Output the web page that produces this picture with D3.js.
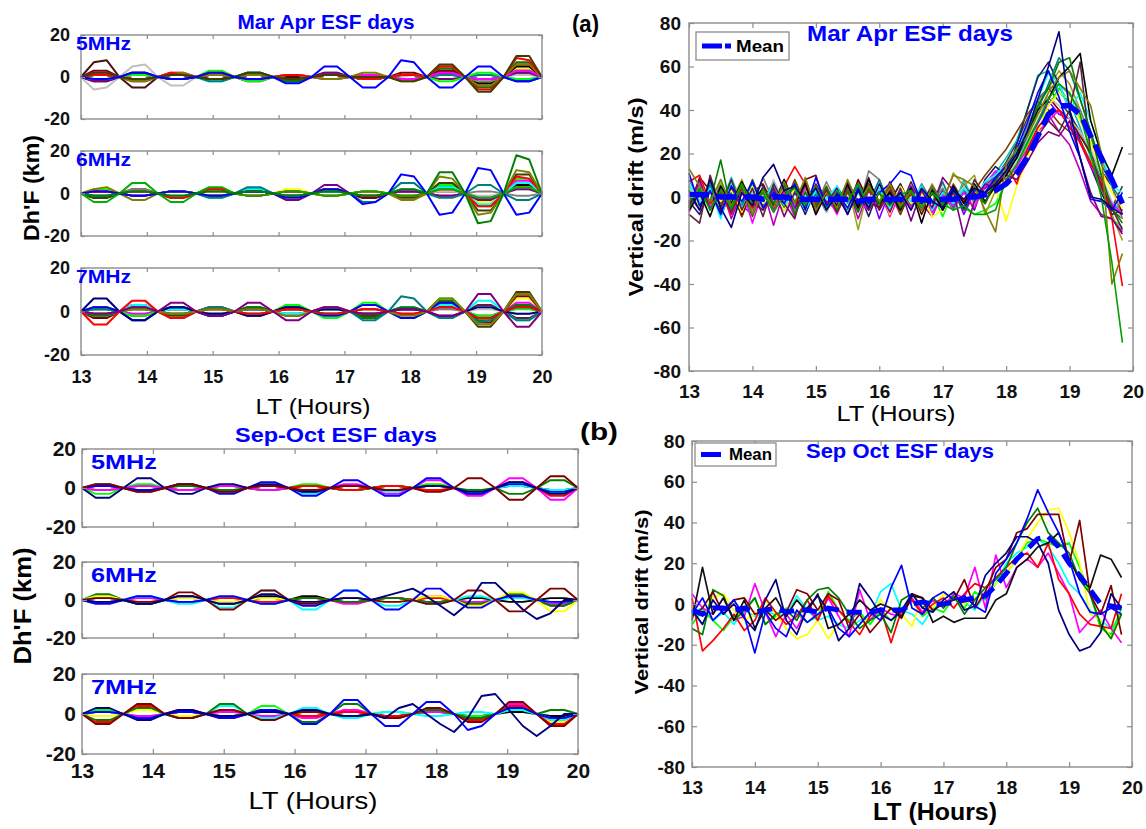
<!DOCTYPE html>
<html>
<head>
<meta charset="utf-8">
<script src="https://cdn.jsdelivr.net/npm/d3@7"></script>
<style>
  body { margin: 0; background: #fff; }
</style>
</head>
<body>
<svg id="fig" width="1146" height="829"></svg>
<script>
// sample times (LT hours)
const dhHours = [13.000,13.194,13.389,13.583,13.778,13.972,14.167,14.361,14.556,14.750,14.944,15.139,15.333,15.528,15.722,15.917,16.111,16.306,16.500,16.694,16.889,17.083,17.278,17.472,17.667,17.861,18.056,18.250,18.444,18.639,18.833,19.028,19.222,19.417,19.611,19.806,20.000];
const driftHours = [13.000,13.167,13.333,13.500,13.667,13.833,14.000,14.167,14.333,14.500,14.667,14.833,15.000,15.167,15.333,15.500,15.667,15.833,16.000,16.167,16.333,16.500,16.667,16.833,17.000,17.167,17.333,17.500,17.667,17.833,18.000,18.167,18.333,18.500,18.667,18.833,19.000,19.167,19.333,19.500,19.667,19.833];
const hourTicks = [13, 14, 15, 16, 17, 18, 19, 20];
const dhTicks = [-20, 0, 20];
const driftTicks = [-80, -60, -40, -20, 0, 20, 40, 60, 80];

// Mar-Apr Dh'F, 5 MHz
const maDh5 = [
  [0, 1,1,0, 2,2,0, -1,-1,0, -1,-1,0, 2,2,0, -2,-2,0, 1,1,0, -1,-1,0, 1,1,0, 2,2,0, 1,1,0, -2,-2,0],
  [0, -1,-1,0, 1,1,0, -1,-1,0, 2,2,0, -1,-1,0, 1,1,0, -1,-1,0, 1,1,0, 1,1,0, 2,2,0, -2,-2,0, 4,4,0],
  [0, 2,2,0, -1,-1,0, 1,1,0, -2,-2,0, 2,2,0, -1,-1,0, 1,1,0, 1,1,0, -1,-1,0, 1,1,0, 1,1,0, -1,-1,0],
  [0, -2,-2,0, 2,2,0, -1,-1,0, 1,1,0, 1,1,0, -1,-1,0, 1,1,0, -1,-1,0, 1,1,0, 3,3,0, -3,-3,0, 5,5,0],
  [0, 1,1,0, -1,-1,0, 1,1,0, -1,-1,0, 2,2,0, -2,-2,0, 1,1,0, 1,1,0, -1,-1,0, 4,4,0, -5,-5,0, 7,7,0],
  [0, 3,3,0, -2,-2,0, 1,1,0, -1,-1,0, 1,1,0, -1,-1,0, 1,1,0, -1,-1,0, 2,2,0, 3,3,0, -4,-4,0, 6,6,0],
  [0, 7,8,0, -5,-5,0, 1,1,0, -1,-1,0, 1,1,0, 0,0,0, 1,1,0, -1,-1,0, 1,1,0, 2,2,0, -1,-1,0, 3,3,0],
  [0, -6,-5,0, 5,6,0, -4,-4,0, 2,2,0, -1,-1,0, 1,1,0, -1,-1,0, 1,1,0, 0,1,0, 1,1,0, -1,-1,0, 1,1,0],
  [0, 1,1,0, -1,-1,0, 1,1,0, 1,1,0, -1,-1,0, 1,1,0, -1,-1,0, 1,1,0, 1,1,0, 1,1,0, -2,-2,0, 2,2,0],
  [0, 1,1,0, 1,1,0, -1,-1,0, -2,-2,0, 1,1,0, -1,-1,0, 2,2,0, -1,-1,0, -1,-1,0, 1,1,0, 1,1,0, 2,2,0],
  [0, -2,-2,0, 1,1,0, -1,-1,0, 1,1,0, -2,-2,0, 1,1,0, 2,2,0, -1,-1,0, 1,1,0, -1,-1,0, -1,-1,0, 2,2,0],
  [0, 2,2,0, -1,-1,0, 2,2,0, 1,1,0, -1,-1,0, 1,1,0, -1,-1,0, 1,1,0, -1,-1,0, 2,2,0, -1,-1,0, 3,3,0],
  [0, -1,-1,0, 1,1,0, 1,1,0, 3,3,0, -2,-2,0, 1,1,0, 1,1,0, -1,-1,0, 1,1,0, -2,-2,0, 2,2,0, -1,-1,0],
  [0, 1,1,0, -2,-2,0, 2,2,0, 1,1,0, 1,1,0, -1,-1,0, -1,-1,0, 2,2,0, -2,-2,0, 5,5,0, -4,-4,0, 6,6,0],
  [0, 1,1,0, -1,-1,0, 2,1,0, 2,2,0, -1,-1,0, 1,1,0, 1,1,0, -1,-1,0, 1,1,0, 5,5,0, -6,-6,0, 9,8,0],
  [0, 2,2,0, -1,-1,0, 1,1,0, -1,-1,0, 2,2,0, -1,-1,0, 1,1,0, 0,0,0, -2,-2,0, 6,6,0, -7,-7,0, 10,10,0],
  [0, -1,-1,0, 2,2,0, -1,-1,0, 2,2,0, -1,-1,0, -3,-3,0, 5,5,0, -5,-5,0, 8,7,0, -5,-5,0, 5,5,0, -2,-2,0]
];
const maDh5Colors = ["#00007f", "#ffff00", "#00ffff", "#000000", "#007f00", "#7f0000", "#4c1010", "#c0c0c0", "#7f7f7f", "#007f7f", "#7f007f", "#ff00ff", "#00ff00", "#7f7f00", "#ff0000", "#3f3f00", "#0000ff"];

// Mar-Apr Dh'F, 6 MHz
const maDh6 = [
  [0, 1,1,0, -1,-1,0, -2,-2,0, 1,1,0, 2,2,0, -1,-1,0, 1,1,0, -2,-2,0, 1,1,0, 2,2,0, -3,-3,0, 3,3,0],
  [0, -2,-2,0, 1,1,0, 1,1,0, -1,-1,0, 1,1,0, 1,1,0, -1,-1,0, 1,1,0, -1,-1,0, 3,3,0, -2,-2,0, 4,4,0],
  [0, 2,2,0, -1,-1,0, 1,1,0, -1,-1,0, -1,-1,0, 1,1,0, -1,-1,0, 1,1,0, 1,1,0, 4,4,0, -6,-6,0, 7,7,0],
  [0, -1,-1,0, 2,2,0, 1,1,0, -1,-1,0, 1,1,0, -1,-1,0, 2,2,0, -2,-2,0, 1,1,0, 1,1,0, -4,-4,0, 5,5,0],
  [0, 1,1,0, -1,-1,0, 1,1,0, 1,1,0, -1,-1,0, 1,1,0, -1,-1,0, 1,1,0, -1,-1,0, 1,1,0, -1,-1,0, 2,2,0],
  [0, -2,-2,0, 1,1,0, -1,-1,0, 1,1,0, 1,1,0, -1,-1,0, 2,2,0, -1,-1,0, -2,-2,0, 5,5,0, -8,-8,0, 9,9,0],
  [0, -1,-1,0, 2,2,0, -1,-1,0, 1,1,0, -1,-1,0, 1,1,0, 1,1,0, -1,-1,0, 1,1,0, -1,-1,0, 1,1,0, -1,-1,0],
  [0, 1,1,0, 1,1,0, -1,-1,0, 1,1,0, -1,-1,0, 2,2,0, -1,-1,0, 1,1,0, -1,-1,0, 2,2,0, -4,-4,0, 3,3,0],
  [0, 1,1,0, -1,-1,0, 1,1,0, -1,-1,0, -1,-1,0, 1,1,0, 2,2,0, -1,-1,0, 1,1,0, -1,-1,0, -2,-2,0, 6,6,0],
  [0, -1,-1,0, 1,1,0, -1,-1,0, -2,-2,0, 2,2,0, -1,-1,0, 1,1,0, -1,-1,0, 2,2,0, 3,3,0, -5,-5,0, 5,5,0],
  [0, 1,1,0, -1,-1,0, 1,1,0, 2,2,0, 1,1,0, -3,-3,0, 4,4,0, -1,-1,0, 1,1,0, -1,-1,0, -3,-3,0, 2,2,0],
  [0, -1,-1,0, 1,1,0, 1,1,0, -2,-2,0, 3,3,0, -1,-1,0, 1,1,0, -4,-4,0, 5,5,0, -2,-2,0, 4,4,0, -3,-3,0],
  [0, 1,1,0, 1,1,0, -2,-2,0, 2,2,0, -1,-1,0, 1,1,0, -1,-1,0, 1,1,0, -1,-1,0, 2,2,0, -6,-6,0, 8,7,0],
  [0, -4,-4,0, 5,5,0, -4,-4,0, 3,3,0, -1,-1,0, 1,1,0, -1,-1,0, 1,1,0, -1,-1,0, 2,2,0, -2,-2,0, 3,3,0],
  [0, 2,3,0, -3,-3,0, 1,1,0, -1,-1,0, 1,1,0, -1,-1,0, 2,2,0, -1,-1,0, -3,-3,0, 8,7,0, -10,-9,0, 11,10,0],
  [0, 1,1,0, -1,-1,0, 1,1,0, -1,-1,0, 1,1,0, -2,-2,0, 2,2,0, -5,-4,0, 9,8,0, -10,-9,0, 12,11,0, -10,-9,0],
  [0, -1,-1,0, 1,1,0, -1,-1,0, 1,1,0, 1,1,0, -1,-1,0, 1,1,0, -1,-1,0, 2,2,0, 10,10,0, -14,-13,0, 18,16,0]
];
const maDh6Colors = ["#00007f", "#000000", "#00ff00", "#7f0000", "#bfbfbf", "#3f3f00", "#7f7f7f", "#ffff00", "#ff00ff", "#00ffff", "#7f007f", "#007f7f", "#ff0000", "#00b000", "#7f7f00", "#0000ff", "#007f00"];

// Mar-Apr Dh'F, 7 MHz
const maDh7 = [
  [0, -1,-1,0, 1,1,0, 1,1,0, -1,-1,0, 1,1,0, 1,1,0, -1,-1,0, -1,-1,0, 1,1,0, 2,2,0, -2,-2,0, 3,3,0],
  [0, 2,2,0, -2,-2,0, 1,1,0, -1,-1,0, -1,-1,0, 2,2,0, -1,-1,0, 1,1,0, -1,-1,0, 3,3,0, -4,-4,0, 6,6,0],
  [0, -3,-3,0, 3,3,0, -1,-1,0, 2,2,0, -2,-2,0, 1,1,0, 1,1,0, -2,-2,0, 1,1,0, 4,4,0, -5,-5,0, 7,7,0],
  [0, 1,1,0, 1,1,0, -1,-1,0, -1,-1,0, 1,1,0, -1,-1,0, 1,1,0, 1,1,0, -1,-1,0, 1,1,0, 1,1,0, -1,-1,0],
  [0, 2,2,0, -2,-2,0, -2,-2,0, 1,1,0, 2,2,0, -1,-1,0, 1,1,0, -2,-2,0, 1,1,0, 5,5,0, -7,-7,0, 9,9,0],
  [0, -1,-1,0, 2,2,0, 1,1,0, -2,-2,0, 1,1,0, -2,-2,0, 1,1,0, 1,1,0, -1,-1,0, 2,2,0, 3,3,0, -3,-3,0],
  [0, 1,1,0, -1,-1,0, -1,-1,0, 1,1,0, 1,1,0, -1,-1,0, 1,1,0, -1,-1,0, 1,1,0, 1,1,0, -2,-2,0, 2,2,0],
  [0, 1,1,0, -1,-1,0, 2,2,0, -1,-1,0, -1,-1,0, 1,1,0, 2,2,0, -1,-1,0, 1,1,0, -2,-2,0, -3,-3,0, 4,4,0],
  [0, -2,-2,0, 3,3,0, 1,1,0, -1,-1,0, 1,1,0, -1,-1,0, 1,1,0, -1,-1,0, 2,2,0, 3,3,0, 5,5,0, -4,-4,0],
  [0, -2,-2,0, 1,1,0, -1,-1,0, -2,-2,0, 2,2,0, 1,1,0, -1,-1,0, -3,-3,0, 2,2,0, 5,5,0, -4,-4,0, 3,3,0],
  [0, 1,1,0, -2,-2,0, 2,2,0, 1,1,0, -1,-1,0, 3,3,0, -3,-3,0, 4,4,0, -3,-3,0, 6,6,0, -2,-2,0, 1,1,0],
  [0, 1,1,0, 2,2,0, -3,-3,0, 2,2,0, -1,-1,0, 1,1,0, -1,-1,0, -4,-4,0, 7,6,0, -3,-3,0, -5,-4,0, -4,-4,0],
  [0, 2,2,0, -4,-4,0, 2,2,0, -2,-2,0, 1,1,0, 2,2,0, -2,-2,0, 3,3,0, -3,-3,0, 4,4,0, -3,-3,0, 2,2,0],
  [0, 6,6,0, -4,-4,0, 2,2,0, -1,-1,0, -2,-2,0, 2,2,0, 1,1,0, -1,-1,0, 1,1,0, -2,-2,0, 2,2,0, -1,-1,0],
  [0, -6,-6,0, 5,5,0, -3,-3,0, 1,1,0, -1,-1,0, 1,1,0, -1,-1,0, 1,1,0, -1,-1,0, 2,2,0, -3,-3,0, 2,2,0],
  [0, -1,-1,0, 1,1,0, -1,-1,0, 1,1,0, 1,1,0, -2,-2,0, 2,2,0, -1,-1,0, -2,-2,0, 6,6,0, -6,-6,0, 8,8,0],
  [0, -1,-1,0, 2,2,0, 4,4,0, -2,-2,0, 4,4,0, -4,-4,0, 2,2,0, -1,-1,0, 1,1,0, -2,-2,0, 8,8,0, -7,-7,0]
];
const maDh7Colors = ["#000000", "#ffff00", "#7f0000", "#bfbfbf", "#3f3f00", "#5f1f3f", "#7f7f7f", "#ff00ff", "#00ffff", "#007f00", "#00ff00", "#007f7f", "#0000ff", "#00007f", "#ff0000", "#7f7f00", "#7f007f"];

// Sep-Oct Dh'F, 5 MHz
const soDh5 = [
  [0, -1,-1,0, 1,1,0, -1,-1,0, 1,1,0, -1,-1,0, 1,1,0, -1,-1,0, 1,1,0, 1,1,0, -2,-2,0, 1,1,0, -1,-1,0],
  [0, 1,1,0, -1,-1,0, 1,1,0, -1,-1,0, 1,1,0, -3,-3,0, 1,1,0, -2,-2,0, 1,1,0, -2,-2,0, 1,1,0, -1,-1,0],
  [0, -1,-1,0, 1,1,0, 1,1,0, -1,-1,0, 1,1,0, -1,-1,0, 1,1,0, 1,1,0, 2,2,0, -3,-3,0, 2,2,0, -3,-3,0],
  [0, -3,-3,0, 2,2,0, -1,-1,0, 1,1,0, -1,-1,0, 2,2,0, -1,-1,0, 1,1,0, 2,2,0, -3,-3,0, 2,2,0, -2,-2,0],
  [0, 2,2,0, -1,-1,0, 1,1,0, -1,-1,0, 1,1,0, 1,1,0, -1,-1,0, 1,1,0, 1,1,0, -1,-1,0, -3,-3,0, 4,4,0],
  [0, 1,1,0, -2,-2,0, 2,2,0, -2,-2,0, 1,1,0, 1,1,0, -1,-1,0, 1,1,0, -1,-1,0, -3,-3,0, 3,3,0, -4,-4,0],
  [0, -1,-1,0, 1,1,0, -1,-1,0, 1,1,0, -1,-1,0, -2,-2,0, 2,2,0, -3,-3,0, 4,4,0, -4,-4,0, 5,5,0, -6,-6,0],
  [0, 1,1,0, -1,-1,0, 2,2,0, -3,-3,0, 3,3,0, -4,-4,0, 4,4,0, -4,-4,0, 5,5,0, -3,-3,0, 2,2,0, -2,-2,0],
  [0, -5,-5,0, 5,5,0, -3,-3,0, 2,2,0, 2,2,0, -2,-2,0, 1,1,0, -1,-1,0, 1,1,0, -2,-2,0, 3,3,0, -3,-3,0],
  [0, 2,2,0, -2,-2,0, 2,2,0, -2,-2,0, 1,1,0, -1,-1,0, 1,1,0, -1,-1,0, -2,-2,0, 5,5,0, -6,-6,0, 6,6,0]
];
const soDh5Colors = ["#000000", "#00ffff", "#ffff00", "#00ff00", "#007f00", "#ff0000", "#ff00ff", "#0000ff", "#00007f", "#7f0000"];

// Sep-Oct Dh'F, 6 MHz
const soDh6 = [
  [0, 1,1,0, -2,-2,0, 2,2,0, -2,-2,0, 2,2,0, 2,2,0, -1,-1,0, 1,1,0, -1,-1,0, 1,1,0, -1,-1,0, 1,1,0],
  [0, -1,-1,0, 1,1,0, -1,-1,0, 1,1,0, -2,-2,0, 1,1,0, -1,-1,0, 1,1,0, 1,1,0, -1,-1,0, 2,2,0, -2,-2,0],
  [0, -1,-1,0, 1,1,0, 1,1,0, -1,-1,0, 1,1,0, -1,-1,0, -2,-2,0, 1,1,0, 2,2,0, -1,-1,0, 2,2,0, -2,-2,0],
  [0, 2,2,0, -1,-1,0, -1,-1,0, 1,1,0, -1,-1,0, 1,1,0, -1,-1,0, 1,1,0, 1,1,0, -2,-2,0, 2,2,0, -3,-3,0],
  [0, 3,3,0, -2,-2,0, 2,2,0, -2,-2,0, 1,1,0, 1,1,0, -1,-1,0, 1,1,0, -1,-1,0, -2,-2,0, 3,3,0, -3,-3,0],
  [0, 2,2,0, -1,-1,0, 1,1,0, -1,-1,0, 1,1,0, -1,-1,0, 1,1,0, -1,-1,0, 2,2,0, -3,-3,0, 4,4,0, -6,-6,0],
  [0, 1,1,0, 2,2,0, -2,-2,0, -4,-4,0, 5,5,0, -5,-5,0, 5,5,0, -3,-3,0, -2,-2,0, 2,2,0, 1,1,0, -1,-1,0],
  [0, -2,-2,0, 2,2,0, -1,-1,0, 2,2,0, -2,-2,0, -3,-3,0, 5,5,0, -5,-5,0, 6,6,0, -4,-4,0, 2,2,0, -1,-1,0],
  [0, 1,1,0, -1,-1,0, 4,4,0, -5,-5,0, 5,5,0, -2,-2,0, 1,1,0, -1,-1,0, -2,-2,0, 5,5,0, -6,-6,0, 6,6,0],
  [0, -1,-1,0, -2,-2,0, 2,2,0, -2,-2,0, 3,3,0, -1,-1,0, 1,1,0, 2,4,6, 2,-3,-8, -2,9,9, 2,-5,-10, -7,0,0]
];
const soDh6Colors = ["#000000", "#00ff00", "#ff00ff", "#ff0000", "#007f00", "#ffff00", "#00ffff", "#0000ff", "#7f0000", "#00007f"];

// Sep-Oct Dh'F, 7 MHz
const soDh7 = [
  [0, 2,2,0, -2,-2,0, 1,1,0, -1,-1,0, 2,2,0, -1,-1,0, 1,1,0, -1,-1,0, 1,1,0, -1,-1,0, 1,1,0, -1,-1,0],
  [0, -1,-1,0, 2,2,0, -1,-1,0, 1,1,0, -1,-1,0, 1,1,0, -1,-1,0, 1,1,0, 2,2,0, -2,-2,0, 3,3,0, -4,-4,0],
  [0, 2,2,0, -1,-1,0, 1,1,0, -1,-1,0, 4,4,0, 1,1,0, -1,-1,0, 1,1,0, 1,1,0, -1,-1,0, 2,2,0, -2,-2,0],
  [0, 1,1,0, -1,-1,0, 1,1,0, 1,1,0, -1,-1,0, -2,-2,0, 2,2,0, -1,-1,0, 1,1,0, -2,-2,0, 5,5,0, -3,-3,0],
  [0, 1,1,0, -3,-3,0, -2,-2,0, 4,4,0, -2,-2,0, 3,3,0, -2,-2,0, 1,1,0, -1,-1,0, 1,1,0, 2,2,0, -3,-3,0],
  [0, -4,-4,0, 4,4,0, 2,2,0, -2,-2,0, 2,2,0, -1,-1,0, 1,1,0, -1,-1,0, 2,2,0, -3,-3,0, 4,4,0, -5,-5,0],
  [0, -3,-3,0, 3,3,0, -2,-2,0, 5,5,0, -3,-3,0, -4,-4,0, 5,5,0, -2,-2,0, 2,2,0, -2,-2,0, 3,3,0, 2,2,0],
  [0, -5,-5,0, 5,5,0, -2,-2,0, 2,2,0, -3,-3,0, 1,1,0, -1,-1,0, -2,-2,0, 3,3,0, -4,-4,0, 6,6,0, -6,-6,0],
  [0, 1,1,0, -2,-2,0, 1,1,0, -2,-2,0, 2,2,0, -5,-5,0, 7,7,0, -6,-6,0, 6,6,0, -8,-6,0, 3,3,0, -2,-2,0],
  [0, 3,3,0, -3,-3,0, 2,2,0, -1,-1,0, 1,1,0, 2,2,0, -1,-1,0, -2,3,5, 0,-5,-9, -2,9,10, 2,-6,-11, -6,0,0]
];
const soDh7Colors = ["#000000", "#ffff00", "#00ff00", "#ff00ff", "#00ffff", "#ff0000", "#007f00", "#7f0000", "#0000ff", "#00007f"];

// Mar-Apr vertical drift (m/s)
const maDrift = [
  [4,-3,6,-7,2,-5,8,-4,3,-6,5,-3,2,-7,4,-2,5,-6,3,-2,6,-4,2,-5,3,-4,6,-1,4,9,16,25,36,45,50,44,38,30,20,8,-5,5],
  [-4,5,-2,6,-8,3,-5,2,-7,4,-2,6,-5,3,-6,2,-3,5,-4,1,-2,4,-6,2,-9,3,-5,-8,-6,-3,7,14,24,34,42,50,44,36,22,5,-10,-14],
  [-7,3,-4,5,-10,2,-6,4,-13,3,-5,7,-8,2,-4,5,-10,3,-6,2,-8,5,-3,-9,2,-6,4,-3,5,10,6,12,20,32,38,30,24,12,-2,-8,-10,-16],
  [8,-2,5,-4,9,-3,6,-5,4,-2,7,-4,2,-6,5,-3,7,-2,4,-6,3,-5,6,-2,4,-5,8,-3,6,11,18,26,40,56,58,48,44,32,18,8,-3,-6],
  [-3,7,-5,4,-2,8,-6,3,-4,6,-2,4,-7,3,-5,6,-15,5,-3,4,-7,2,-4,6,-3,11,5,10,-8,3,12,20,32,42,50,58,52,40,28,10,-8,-20],
  [-2,-8,4,-6,3,-9,5,-2,7,-5,3,-8,4,-6,2,-5,3,-9,4,-2,6,-5,3,-7,2,-4,3,-6,8,14,10,24,40,55,62,52,40,26,14,2,-8,-6],
  [5,-5,2,-3,6,-9,3,-6,2,-4,8,-3,5,-2,-6,3,-4,6,-2,5,-8,3,-2,4,-5,6,-2,3,10,16,22,30,38,44,40,34,30,26,16,4,-6,-10],
  [1,-6,7,-2,4,-4,-8,5,-3,8,-5,2,-6,4,-3,7,-2,5,-10,3,-4,5,-6,2,-3,4,-8,2,4,7,12,18,26,34,44,38,36,25,14,6,-4,-8],
  [-5,9,3,-6,4,-8,2,6,-4,3,-7,8,10,-5,3,-6,8,-2,-5,7,-3,4,-8,2,-4,3,-6,2,-3,6,12,20,28,38,46,40,36,28,20,12,5,-8],
  [6,-2,3,-5,7,-4,2,-6,8,-3,4,-1,5,-7,3,-2,6,-4,2,-5,3,-1,4,-3,6,-2,5,-4,3,6,9,16,26,38,46,42,36,30,22,10,-2,-10],
  [-2,6,-4,8,-6,2,-5,9,-2,5,-7,3,-4,7,-3,2,-6,12,8,-4,3,-5,6,-2,4,-6,3,-2,5,8,10,20,32,44,50,52,47,40,28,18,5,-10],
  [2,-5,6,-9,3,-4,7,-2,5,-6,3,-3,1,-5,4,-2,6,-3,8,-4,2,-6,5,-3,7,-5,2,4,-3,9,12,18,28,40,52,64,58,45,30,15,5,-2],
  [-3,6,-5,2,-8,4,-12,3,-6,2,-9,5,-3,1,-8,4,-2,-6,3,-9,2,-5,3,-7,1,-4,2,-5,6,12,8,14,22,30,35,40,32,25,15,5,-3,-8],
  [4,-5,8,-2,3,-7,5,-3,2,-6,4,-2,6,-4,3,-5,2,-1,4,-8,5,-3,2,-9,-6,2,-4,3,-2,4,-11,5,18,30,42,48,45,35,25,12,2,-5],
  [5,-3,4,-10,7,-5,3,-2,6,-4,2,-6,3,-1,5,-7,2,-3,4,-5,3,-2,5,-6,2,-3,4,-1,7,10,15,22,30,45,57,52,40,48,35,20,5,2],
  [7,10,-3,2,-8,4,-5,2,-1,5,14,6,-3,4,-7,2,-5,3,-2,5,-4,1,-3,3,-6,2,-2,4,1,8,15,6,22,32,38,40,32,25,15,8,-10,-41],
  [-8,-12,10,-5,8,-6,4,-9,6,-3,-10,8,-5,3,-7,5,-4,9,-6,3,-5,7,-3,4,-6,2,-5,8,1,4,6,12,20,28,35,30,40,62,20,5,-5,-15],
  [-4,8,-6,3,-7,5,-3,-6,4,-9,2,-5,6,-3,4,-8,3,-6,2,-7,4,-11,3,-5,9,3,-18,-2,6,4,10,8,16,25,30,28,35,18,2,-9,-10,-17],
  [-6,2,-9,5,-3,7,-2,4,-5,8,-3,6,-8,2,-4,6,-5,8,-3,2,-6,4,-12,3,-6,5,-3,6,-2,5,10,18,30,40,45,55,60,66,35,20,10,23],
  [-5,3,-2,17,-6,5,-9,4,-3,6,-8,2,-4,5,-6,3,-7,4,-3,6,-5,2,-6,5,-4,3,-6,4,-3,8,14,20,30,42,50,62,64,45,30,10,-5,-12],
  [11,-4,3,-8,5,-2,7,-5,2,-3,6,-6,9,-4,2,-5,4,-3,2,6,12,10,-3,5,-2,4,-5,3,2,9,14,22,34,48,58,46,30,18,-1,-2,-6,2],
  [13,5,-2,8,-4,6,-8,3,-5,7,-3,9,-6,2,-5,8,-3,5,-2,6,-4,3,-6,5,-2,10,8,5,-6,-16,15,22,28,38,48,55,58,50,42,20,-40,-26],
  [-2,4,-6,3,-5,6,-3,2,-7,1,4,-4,5,-6,3,-2,6,-5,2,-4,1,3,-5,2,-3,-6,-4,-8,-8,-6,8,15,25,35,45,52,48,38,20,0,-30,-67],
  [3,-6,8,-5,-14,2,-4,9,15,3,5,-2,4,-6,1,-8,3,-5,6,-3,2,-6,4,-2,-5,3,-1,4,2,6,12,20,30,45,60,76,40,18,0,-1,-5,-8]
];
const maDriftColors = ["#3f3f3f", "#00ff00", "#bf00bf", "#00bfbf", "#9f9f20", "#1f1f5f", "#7f3f00", "#7f00ff", "#7f0000", "#bfbfbf", "#7f7f7f", "#007f7f", "#ff00ff", "#ffff00", "#00ffff", "#ff0000", "#5f1f3f", "#7f007f", "#000000", "#007f00", "#0000ff", "#7f7f00", "#00a000", "#00007f"];
const maDriftMean = [1,1,1,0,0,0,0,-1,0,0,-1,-1,-1,-1,-1,-1,-2,-1,-1,-1,-1,-1,-1,-2,-1,-1,0,0,1,3,6,11,18,28,38,42,42,38,28,18,8,-3];

// Sep-Oct vertical drift (m/s)
const soDrift = [
  [-4,-2,-8,-4,-10,-3,-6,-4,-5,-6,4,-3,-8,-6,-10,-12,-8,-6,6,10,-3,-5,-10,-2,0,3,1,-3,5,10,20,25,28,32,28,20,10,5,-3,-8,-12,-5],
  [-10,-3,-8,-13,-6,-4,3,-10,-6,-2,-5,-9,-6,6,-3,-8,-4,-10,-3,-8,-4,2,-6,-2,-4,3,-2,6,2,10,15,22,30,32,30,28,30,18,5,-12,-15,-2],
  [-2,-5,3,5,-3,-8,-5,2,-5,-12,-17,-15,-8,-17,-10,-5,-12,-6,2,-3,-5,-11,3,-2,5,2,0,3,5,10,15,22,32,40,46,47,35,20,-5,-8,-17,-5],
  [5,-2,-5,3,-8,-6,10,-4,-16,-5,-12,-2,-8,3,-6,-16,7,-8,-2,-5,-6,3,-4,2,-1,5,3,18,-2,24,8,18,22,18,25,15,5,-14,-8,-3,-12,-19],
  [3,-23,-18,-12,-5,-13,-8,3,-4,-10,-6,2,-8,4,-3,-9,-15,-6,-2,-19,-3,2,-5,0,3,-2,5,10,8,13,18,23,25,18,30,12,5,-5,-10,-11,-12,5],
  [-12,-15,7,4,-8,-3,3,-10,-5,-3,-8,2,7,8,3,-5,-12,-8,-5,-14,2,5,-2,3,-2,4,-5,2,8,12,18,30,40,47,35,30,25,12,5,-10,-17,-5],
  [-6,-2,6,-5,2,3,-5,-3,-8,-4,7,5,-3,5,2,-12,-5,-14,-8,-2,-6,5,3,-3,0,2,12,-2,6,18,22,35,37,44,44,44,20,41,5,-5,9,-15],
  [-8,18,-5,3,-8,2,-12,-2,3,-6,2,-4,5,-12,-10,-5,2,-3,0,-2,-7,4,3,-9,-6,-9,-7,-7,-7,2,5,18,22,28,30,35,22,12,8,24,22,13],
  [-3,-10,2,-5,0,-7,-13,2,12,-8,-15,-2,4,-3,-18,-12,10,3,-5,-8,-3,5,-2,-4,2,6,-3,-1,14,20,25,33,33,30,20,-3,-15,-23,-21,-14,5,-2],
  [-5,3,-8,-3,2,-6,-24,-4,-12,-16,-3,-9,-5,-2,-12,-16,-10,-4,-8,8,19,-2,-5,3,6,2,4,-1,-4,15,22,30,42,56,45,35,22,5,-4,-5,-2,-5]
];
const soDriftColors = ["#00ffff", "#00ff00", "#ffff00", "#ff00ff", "#ff0000", "#007f00", "#7f0000", "#111111", "#00007f", "#0000ff"];
const soDriftMean = [-3,-5,-2,-2,-3,-2,-4,-3,-2,-4,-3,-3,-4,-2,-3,-4,-4,-4,-3,-3,-3,0,1,0,0,1,2,3,4,9,15,22,27,32,33,28,20,14,7,0,-1,-2];

const FONT = "'Liberation Sans', Arial, Helvetica, sans-serif";
const BLUE = "#0000ff";
const FRAME = "#8c8c8c";

const svg = d3.select("#fig");

function addText(x, y, s, o) {
  const t = svg.append("text")
    .attr("x", x)
    .attr("y", y)
    .attr("text-anchor", o.anchor || "middle")
    .attr("font-family", FONT)
    .attr("font-weight", o.bold ? "bold" : "normal")
    .attr("font-size", o.fs)
    .attr("fill", o.color || "#000")
    .text(s);
  if (o.len) t.attr("textLength", o.len).attr("lengthAdjust", "spacingAndGlyphs");
  if (o.rot) t.attr("transform", `rotate(-90,${x},${y})`);
  return t;
}

function drawAxes(g, x, y, yTicks, st, showX) {
  const [xl, xr] = x.range();
  const [yb, yt] = y.range();
  const fmt = d => String(d);
  g.append("g")
    .attr("transform", `translate(0,${yb})`)
    .call(d3.axisBottom(x).tickValues(hourTicks).tickSize(-st.tick).tickPadding(st.xpad)
      .tickFormat(showX ? fmt : () => ""));
  g.append("g")
    .attr("transform", `translate(0,${yt})`)
    .call(d3.axisTop(x).tickValues(hourTicks).tickSize(-st.tick).tickFormat(() => ""));
  g.append("g")
    .attr("transform", `translate(${xl},0)`)
    .call(d3.axisLeft(y).tickValues(yTicks).tickSize(-st.tick).tickPadding(st.ypad).tickFormat(fmt));
  g.append("g")
    .attr("transform", `translate(${xr},0)`)
    .call(d3.axisRight(y).tickValues(yTicks).tickSize(-st.tick).tickFormat(() => ""));
  g.selectAll(".domain").remove();
  g.selectAll(".tick line").attr("stroke", FRAME).attr("stroke-width", 1.2);
  g.selectAll(".tick text")
    .attr("font-family", FONT)
    .attr("font-weight", "bold")
    .attr("font-size", st.fs)
    .attr("fill", "#111");
  g.append("rect")
    .attr("x", xl)
    .attr("y", yt)
    .attr("width", xr - xl)
    .attr("height", yb - yt)
    .attr("fill", "none")
    .attr("stroke", FRAME)
    .attr("stroke-width", 1.4);
}

function dhPanel(box, series, colors, tag, st, showX) {
  const x = d3.scaleLinear().domain([13, 20]).range([box.x0, box.x1]);
  const y = d3.scaleLinear().domain([-20, 20]).range([box.y1, box.y0]);
  const g = svg.append("g");
  const line = d3.line()
    .x((d, i) => x(dhHours[i]))
    .y(d => y(d));

  g.selectAll("path.day")
    .data(series)
    .join("path")
    .attr("class", "day")
    .attr("fill", "none")
    .attr("stroke", (d, i) => colors[i])
    .attr("stroke-width", st.lw)
    .attr("stroke-linejoin", "round")
    .attr("d", line);

  drawAxes(g, x, y, dhTicks, st, showX);

  addText(box.x0 + st.tagDx, box.y0 + st.tagDy, tag,
    { fs: st.tagFs, bold: true, color: BLUE, anchor: "start", len: st.tagLen });
}

function driftPanel(box, series, colors, mean, st) {
  const x = d3.scaleLinear().domain([13, 20]).range([box.x0, box.x1]);
  const y = d3.scaleLinear().domain([-80, 80]).range([box.y1, box.y0]);
  const g = svg.append("g");
  const line = d3.line()
    .x((d, i) => x(driftHours[i]))
    .y(d => y(d));

  g.selectAll("path.day")
    .data(series)
    .join("path")
    .attr("class", "day")
    .attr("fill", "none")
    .attr("stroke", (d, i) => colors[i])
    .attr("stroke-width", st.lw)
    .attr("stroke-linejoin", "round")
    .attr("d", line);

  g.append("path")
    .datum(mean)
    .attr("fill", "none")
    .attr("stroke", BLUE)
    .attr("stroke-width", st.mw)
    .attr("stroke-dasharray", st.dash)
    .attr("d", line);

  drawAxes(g, x, y, driftTicks, st, true);

  // legend
  const lg = box.legend;
  g.append("rect")
    .attr("x", lg.x).attr("y", lg.y)
    .attr("width", lg.w).attr("height", lg.h)
    .attr("fill", "#fff")
    .attr("stroke", FRAME)
    .attr("stroke-width", 1.3);
  g.append("line")
    .attr("x1", lg.x + 6).attr("x2", lg.x + lg.sw)
    .attr("y1", lg.y + lg.h / 2).attr("y2", lg.y + lg.h / 2)
    .attr("stroke", BLUE)
    .attr("stroke-width", 5)
    .attr("stroke-dasharray", "20,3");
  addText(lg.x + lg.sw + 5, lg.y + lg.h / 2 + lg.fs * 0.36, "Mean",
    { fs: lg.fs, bold: true, anchor: "start", len: lg.tl });
}

// ---- top left: Mar Apr Dh'F ----
const tlStyle = { tick: 4, xpad: 15, ypad: 11, fs: 18, lw: 2, tagDx: -5, tagDy: 15, tagFs: 19, tagLen: 55 };
dhPanel({ x0: 81, x1: 542, y0: 35, y1: 119 }, maDh5, maDh5Colors, "5MHz", tlStyle, false);
dhPanel({ x0: 81, x1: 542, y0: 151, y1: 236 }, maDh6, maDh6Colors, "6MHz", tlStyle, false);
dhPanel({ x0: 81, x1: 542, y0: 268, y1: 355 }, maDh7, maDh7Colors, "7MHz", tlStyle, true);
addText(326, 29, "Mar Apr ESF days", { fs: 21, bold: true, color: BLUE, len: 177 });
addText(39, 188, "Dh'F (km)", { fs: 22, bold: true, rot: true, len: 106 });
addText(313, 414, "LT (Hours)", { fs: 22, len: 115 });

// ---- bottom left: Sep-Oct Dh'F ----
const blStyle = { tick: 5, xpad: 9, ypad: 6, fs: 21, lw: 1.9, tagDx: 9, tagDy: 20, tagFs: 21, tagLen: 66 };
dhPanel({ x0: 82, x1: 578, y0: 449, y1: 527 }, soDh5, soDh5Colors, "5MHz", blStyle, false);
dhPanel({ x0: 82, x1: 578, y0: 562, y1: 638 }, soDh6, soDh6Colors, "6MHz", blStyle, false);
dhPanel({ x0: 82, x1: 578, y0: 674, y1: 754 }, soDh7, soDh7Colors, "7MHz", blStyle, true);
addText(336, 442, "Sep-Oct ESF days", { fs: 20, bold: true, color: BLUE, len: 202 });
addText(31, 606, "Dh'F (km)", { fs: 23, bold: true, rot: true, len: 117 });
addText(313, 809, "LT (Hours)", { fs: 24, len: 129 });

// ---- top right: Mar Apr drift ----
const trStyle = { tick: 5, xpad: 14, ypad: 8, fs: 19, lw: 1.6, mw: 5.5, dash: "20,8" };
driftPanel({ x0: 689, x1: 1133, y0: 23, y1: 371,
  legend: { x: 696, y: 32, w: 93, h: 28, sw: 35, fs: 17, tl: 48 } },
  maDrift, maDriftColors, maDriftMean, trStyle);
addText(910, 41, "Mar Apr ESF days", { fs: 22, bold: true, color: BLUE, len: 206 });
addText(643, 197, "Vertical drift (m/s)", { fs: 21, bold: true, rot: true, len: 199 });
addText(896, 421, "LT (Hours)", { fs: 22, len: 119 });
addText(572, 32, "(a)", { fs: 24, bold: true, anchor: "start", len: 27 });

// ---- bottom right: Sep Oct drift ----
const brStyle = { tick: 5, xpad: 14, ypad: 7, fs: 19, lw: 1.7, mw: 5, dash: "15,8" };
driftPanel({ x0: 692, x1: 1132, y0: 441, y1: 767,
  legend: { x: 695, y: 443, w: 81, h: 23, sw: 29, fs: 16, tl: 43 } },
  soDrift, soDriftColors, soDriftMean, brStyle);
addText(900, 458, "Sep Oct ESF days", { fs: 20, bold: true, color: BLUE, len: 188 });
addText(648, 602, "Vertical drift (m/s)", { fs: 19, bold: true, rot: true, len: 185 });
addText(935, 820, "LT (Hours)", { fs: 23, bold: true, len: 124 });
addText(580, 440, "(b)", { fs: 24, bold: true, anchor: "start", len: 38 });
</script>
</body>
</html>
